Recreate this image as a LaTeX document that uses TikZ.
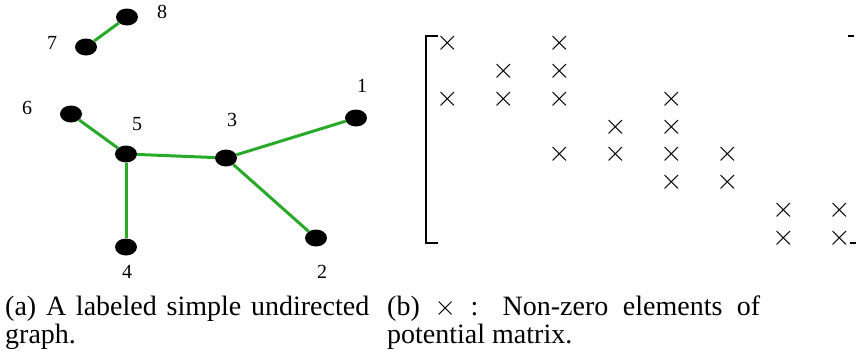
\RequirePackage{fix-cm}
\documentclass[tikz,border=0pt]{standalone}
\usepackage{fontspec}
\setmainfont{Liberation Serif}
\usepackage{tikz}
\usetikzlibrary{shapes.geometric}
\definecolor{edgegreen}{RGB}{40,170,40}
\hyphenpenalty=10000

\tikzset{
  vertex/.style={ellipse,fill=black,minimum width=22pt,minimum height=17pt,inner sep=0pt},
  vlabel/.style={font=\fontsize{20}{20}\selectfont,inner sep=0pt},
  edge/.style={edgegreen,line width=3pt},
  entry/.style={font=\fontsize{29}{29}\selectfont,inner sep=0pt},
  caption/.style={font=\fontsize{28}{28}\selectfont,align=justify,inner sep=0pt,anchor=north west}
}

\begin{document}
\begin{tikzpicture}[x=1pt,y=-1pt]
  \useasboundingbox (0,0) rectangle (856,356);

  % Graph vertices
  \node[vertex] (v1) at (356,118) {};
  \node[vertex] (v2) at (316,238) {};
  \node[vertex] (v3) at (226,158) {};
  \node[vertex] (v4) at (126,247) {};
  \node[vertex] (v5) at (126,154) {};
  \node[vertex] (v6) at (71,114) {};
  \node[vertex] (v7) at (86,47) {};
  \node[vertex] (v8) at (127,17) {};

  % Vertex labels
  \node[vlabel] (l1) at (362,86) {1};
  \node[vlabel] (l2) at (322,272) {2};
  \node[vlabel] (l3) at (232,120) {3};
  \node[vlabel] (l4) at (127,272) {4};
  \node[vlabel] (l5) at (137,124) {5};
  \node[vlabel] (l6) at (27,108) {6};
  \node[vlabel] (l7) at (52,43) {7};
  \node[vlabel] (l8) at (162,12) {8};

  % Edges
  \draw[edge] (v7) -- (v8);
  \draw[edge] (v6) -- (v5);
  \draw[edge] (v5) -- (v3);
  \draw[edge] (v5) -- (v4);
  \draw[edge] (v3) -- (v1);
  \draw[edge] (v3) -- (v2);

  % Matrix brackets
  \draw[line width=2.5pt] (438,36) -- (426,36) -- (426,243) -- (438,243);
  \draw[line width=2.5pt] (848,36) -- (854,36);
  \draw[line width=2.5pt] (850,243) -- (858,243);

  % Row 1
  \node[entry] (e11) at (448,43) {$\times$};
  \node[entry] (e13) at (560,43) {$\times$};
  % Row 2
  \node[entry] (e22) at (504,71) {$\times$};
  \node[entry] (e23) at (560,71) {$\times$};
  % Row 3
  \node[entry] (e31) at (448,99) {$\times$};
  \node[entry] (e32) at (504,99) {$\times$};
  \node[entry] (e33) at (560,99) {$\times$};
  \node[entry] (e35) at (672,99) {$\times$};
  % Row 4
  \node[entry] (e44) at (616,127) {$\times$};
  \node[entry] (e45) at (672,127) {$\times$};
  % Row 5
  \node[entry] (e53) at (560,154) {$\times$};
  \node[entry] (e54) at (616,154) {$\times$};
  \node[entry] (e55) at (672,154) {$\times$};
  \node[entry] (e56) at (728,154) {$\times$};
  % Row 6
  \node[entry] (e65) at (672,182) {$\times$};
  \node[entry] (e66) at (728,182) {$\times$};
  % Row 7
  \node[entry] (e77) at (784,210) {$\times$};
  \node[entry] (e78) at (840,210) {$\times$};
  % Row 8
  \node[entry] (e87) at (784,238) {$\times$};
  \node[entry] (e88) at (840,238) {$\times$};

  % Captions
  \node[caption,text width=364pt] (capa) at (5,296) {(a) A labeled simple undirected graph.};
  \node[caption,text width=373pt] (capb) at (387,296) {(b) $\times$ : Non-zero elements of potential matrix.};
\end{tikzpicture}
\end{document}
